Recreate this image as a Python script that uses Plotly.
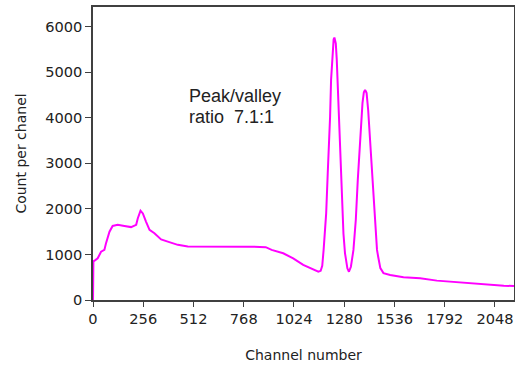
import plotly.graph_objects as go

# Values
channels = [0, 2, 10, 24, 41, 50, 58, 66, 84, 100, 126, 160, 194, 220, 228, 242, 254,
            270, 288, 313, 347, 381, 432, 483, 525, 600, 700, 800, 880, 910, 969,
            1020, 1071, 1122, 1148, 1160, 1168, 1175, 1182, 1188, 1196, 1203, 1208,
            1213, 1221, 1226, 1230, 1234, 1237, 1242, 1250, 1259, 1267, 1276, 1284,
            1296, 1304, 1314, 1327, 1339, 1349, 1361, 1373, 1380, 1386, 1390, 1394,
            1402, 1411, 1423, 1433, 1441, 1447, 1453, 1464, 1480, 1514, 1582, 1667,
            1752, 1837, 1922, 2007, 2093, 2145]
counts = [0, 850, 870, 915, 1060, 1080, 1100, 1240, 1500, 1625, 1650, 1625, 1600,
          1650, 1790, 1960, 1900, 1720, 1540, 1465, 1330, 1280, 1210, 1175, 1175,
          1170, 1180, 1170, 1160, 1100, 1025, 915, 770, 660, 620, 640, 750, 1100,
          1500, 1900, 2780, 3440, 4025, 4830, 5560, 5720, 5760, 5700, 5630, 5270,
          4320, 3220, 2270, 1460, 1025, 695, 620, 730, 1100, 1760, 2630, 3590, 4320,
          4560, 4610, 4580, 4540, 4170, 3590, 2710, 2050, 1460, 1100, 950, 700, 590,
          550, 500, 475, 425, 395, 365, 345, 315, 305]

x_ticks = [0, 256, 512, 768, 1024, 1280, 1536, 1792, 2048]
y_ticks = [0, 1000, 2000, 3000, 4000, 5000, 6000]
note_lines = ["Peak/valley", "ratio  7.1:1"]
note_y = [4468, 4006]

font_family = "DejaVu Sans"
note_family = "Liberation Sans"
text_color = "#222222"
axis_color = "#404040"

fig = go.Figure()
fig.add_trace(go.Scatter(
    x=channels, y=counts, mode="lines",
    line=dict(color="#FF00FF", width=2),
    hoverinfo="skip", showlegend=False,
))

for line_text, y_val in zip(note_lines, note_y):
    fig.add_annotation(
        x=480, y=y_val, xref="x", yref="y",
        text=line_text.replace(" ", "&nbsp;"),
        showarrow=False, align="left", xanchor="left", yanchor="middle",
        font=dict(family=note_family, size=18, color=text_color),
    )

fig.update_xaxes(
    range=[0, 2145], tickvals=x_ticks, ticktext=[str(v) for v in x_ticks],
    showgrid=False, zeroline=False, showline=True, linecolor=axis_color,
    linewidth=1.5, mirror=True, ticks="outside", ticklen=5, tickcolor=axis_color,
    tickfont=dict(family=font_family, size=14.6, color=text_color),
    title=dict(text="Channel number", standoff=24,
               font=dict(family=font_family, size=14, color=text_color)),
    automargin=False,
)
fig.update_yaxes(
    range=[0, 6430], tickvals=y_ticks, ticktext=[str(v) for v in y_ticks],
    showgrid=False, zeroline=False, showline=True, linecolor=axis_color,
    linewidth=1.5, mirror=True, ticks="outside", ticklen=6, tickcolor=axis_color,
    tickfont=dict(family=font_family, size=14.6, color=text_color),
    title=dict(text="Count per chanel", standoff=15,
               font=dict(family=font_family, size=14, color=text_color)),
    automargin=False,
)

fig.update_layout(
    width=515, height=365,
    margin=dict(l=93, r=1, t=7, b=65),
    paper_bgcolor="white", plot_bgcolor="white",
)

fig.write_html("out.html", config={"displayModeBar": False},
               post_script="document.body.style.margin='0px';")
